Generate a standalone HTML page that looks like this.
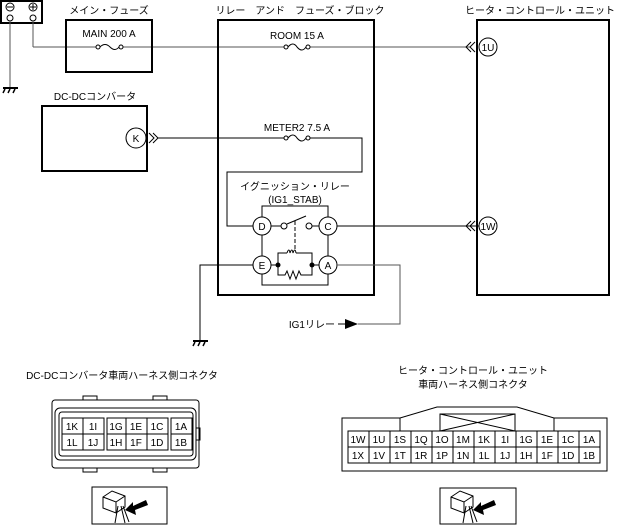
<!DOCTYPE html>
<html><head><meta charset="utf-8"><style>
html,body{margin:0;padding:0;background:#fff}
svg{display:block}
text{font-family:"Liberation Sans","Noto Sans CJK JP",sans-serif;font-size:10px;fill:#000}
</style></head><body>
<svg width="619" height="526" viewBox="0 0 619 526" xmlns="http://www.w3.org/2000/svg">
<g fill="none" stroke="#000" stroke-width="1">
<rect x="1" y="1" width="41" height="22" stroke-width="2"/>
<circle cx="10" cy="7" r="4"/><line x1="7" y1="7" x2="13" y2="7"/>
<circle cx="33" cy="7" r="4"/><line x1="30" y1="7" x2="36" y2="7"/><line x1="33" y1="4" x2="33" y2="10"/>
<circle cx="10" cy="18" r="3"/><circle cx="33" cy="18" r="3"/>
<line x1="10" y1="21" x2="10" y2="88" stroke="#555"/>
<line x1="3" y1="88" x2="18" y2="88" stroke-width="2"/>
<line x1="5" y1="89" x2="3" y2="93" stroke-width="1.5"/><line x1="10" y1="89" x2="8" y2="93" stroke-width="1.5"/><line x1="15" y1="89" x2="13" y2="93" stroke-width="1.5"/>
<line x1="33" y1="21" x2="33" y2="47" stroke="#555"/>
<polyline points="33,47 96,47" stroke="#555"/>
<line x1="123" y1="47" x2="284" y2="47" stroke="#555"/>
<line x1="310" y1="47" x2="470" y2="47" stroke="#555"/>
<rect x="66" y="20" width="86" height="52" stroke-width="2"/>
<circle cx="98" cy="47" r="2"/><circle cx="121" cy="47" r="2"/>
<path d="M100,47 q5,-5 10,0 q5,5 9,0"/>
<rect x="218" y="20" width="156" height="275" stroke-width="2"/>
<circle cx="286" cy="47" r="2"/><circle cx="308" cy="47" r="2"/>
<path d="M288,47 q5,-6 9,0 q5,6 9,0"/>
<rect x="477" y="20" width="132" height="275" stroke-width="2"/>
<circle cx="488" cy="47" r="9" fill="#fff"/>
<path d="M471,42 l-5,5 l5,5 M475,42 l-5,5 l5,5"/>
<circle cx="488" cy="226" r="9" fill="#fff"/>
<path d="M471,221 l-5,5 l5,5 M475,221 l-5,5 l5,5"/>
<rect x="42" y="106" width="105" height="65" stroke-width="2"/>
<circle cx="136" cy="138" r="10" fill="#fff"/>
<path d="M149,133 l5,5 l-5,5 M153,133 l5,5 l-5,5"/>
<line x1="158" y1="138" x2="284" y2="138"/>
<circle cx="286" cy="138" r="2"/><circle cx="308" cy="138" r="2"/>
<path d="M288,138 q5,-6 9,0 q5,6 9,0"/>
<polyline points="310,138 362,138 362,172 227,172 227,226 253,226"/>
<circle cx="262" cy="226" r="9"/><circle cx="328" cy="226" r="9"/>
<circle cx="262" cy="265" r="9"/><circle cx="328" cy="265" r="9"/>
<polyline points="262,217 262,206 328,206 328,217"/>
<line x1="262" y1="235" x2="262" y2="256"/><line x1="328" y1="235" x2="328" y2="256"/>
<polyline points="262,274 262,285 328,285 328,274"/>
<line x1="271" y1="226" x2="281" y2="226"/><circle cx="284" cy="226" r="3"/>
<line x1="287" y1="224" x2="306" y2="216"/>
<circle cx="309" cy="226" r="3"/><line x1="312" y1="226" x2="319" y2="226"/>
<line x1="295" y1="221" x2="295" y2="250" stroke-dasharray="4,2"/>
<line x1="271" y1="265" x2="278" y2="265"/><line x1="319" y1="265" x2="312" y2="265"/>
<polyline points="278,265 278,253 287,253"/>
<path d="M287,253 q2,-6 3,0 q2,-6 3,0 q2,-6 3,0"/>
<polyline points="296,253 312,253 312,265"/>
<polyline points="278,265 278,275 285,275 287,271 290,279 293,271 296,279 299,271 301,275 312,275 312,265"/>
<line x1="337" y1="226" x2="479" y2="226"/>
<polyline points="253,265 200,265 200,340"/>
<line x1="193" y1="341" x2="208" y2="341" stroke-width="2"/>
<line x1="195" y1="342" x2="193" y2="346" stroke-width="1.5"/><line x1="200" y1="342" x2="198" y2="346" stroke-width="1.5"/><line x1="205" y1="342" x2="203" y2="346" stroke-width="1.5"/>
<polyline points="337,265 400,265 400,324 358,324" stroke="#555"/>
<line x1="338" y1="324" x2="346" y2="324"/>
</g>
<circle cx="278" cy="265" r="2.5"/><circle cx="312" cy="265" r="2.5"/>
<polygon points="345,319 358,324 345,329"/>
<text x="109" y="14" text-anchor="middle">メイン・フューズ</text>
<text x="300" y="14" text-anchor="middle">リレー　アンド　フューズ・ブロック</text>
<text x="540" y="14" text-anchor="middle">ヒータ・コントロール・ユニット</text>
<text x="109" y="37" text-anchor="middle">MAIN 200 A</text>
<text x="297" y="39" text-anchor="middle">ROOM 15 A</text>
<text x="297" y="131" text-anchor="middle">METER2 7.5 A</text>
<text x="95" y="100" text-anchor="middle">DC-DCコンバータ</text>
<text x="136" y="142" text-anchor="middle">K</text>
<text x="488" y="51" text-anchor="middle" font-size="9">1U</text>
<text x="488" y="230" text-anchor="middle" font-size="9">1W</text>
<text x="295" y="190" text-anchor="middle">イグニッション・リレー</text>
<text x="295" y="203" text-anchor="middle">(IG1_STAB)</text>
<text x="262" y="230" text-anchor="middle">D</text><text x="328" y="230" text-anchor="middle">C</text>
<text x="262" y="269" text-anchor="middle">E</text><text x="328" y="269" text-anchor="middle">A</text>
<text x="335" y="328" text-anchor="end">IG1リレー</text>
<text x="122" y="379" text-anchor="middle">DC-DCコンバータ車両ハーネス側コネクタ</text>
<text x="473" y="374" text-anchor="middle">ヒータ・コントロール・ユニット</text>
<text x="473" y="388" text-anchor="middle">車両ハーネス側コネクタ</text>
<g fill="none" stroke="#000">
<rect x="52" y="400" width="147" height="68" rx="3"/>
<rect x="55" y="408" width="141" height="52" rx="5"/>
<rect x="59" y="412" width="134" height="44" rx="3"/>
<rect x="83" y="396" width="14" height="4"/><rect x="153" y="396" width="14" height="4"/>
<rect x="83" y="468" width="14" height="4"/><rect x="153" y="468" width="14" height="4"/>
<rect x="196" y="428" width="4" height="12"/>
<rect x="62" y="418" width="42" height="32"/><line x1="83" y1="418" x2="83" y2="450"/><line x1="62" y1="434" x2="104" y2="434"/>
<rect x="107" y="418" width="61" height="32"/><line x1="126" y1="418" x2="126" y2="450"/><line x1="147" y1="418" x2="147" y2="450"/><line x1="107" y1="434" x2="168" y2="434"/>
<rect x="171" y="418" width="21" height="32"/><line x1="171" y1="434" x2="192" y2="434"/>
<rect x="92" y="487" width="75" height="37"/>
<rect x="440" y="488" width="76" height="36"/>
<path d="M342,418 V471 H607 V418 H554 L517,407 H437 L400,418 Z"/>
<rect x="440" y="414" width="75" height="17"/><line x1="440" y1="414" x2="515" y2="431"/><line x1="515" y1="414" x2="440" y2="431"/>
<line x1="400" y1="418" x2="400" y2="431"/><line x1="554" y1="418" x2="554" y2="431"/>
<rect x="348" y="431" width="252" height="32"/><line x1="348" y1="447" x2="600" y2="447"/>
<line x1="369" y1="431" x2="369" y2="463"/><line x1="390" y1="431" x2="390" y2="463"/><line x1="411" y1="431" x2="411" y2="463"/><line x1="432" y1="431" x2="432" y2="463"/><line x1="453" y1="431" x2="453" y2="463"/><line x1="474" y1="431" x2="474" y2="463"/><line x1="495" y1="431" x2="495" y2="463"/><line x1="516" y1="431" x2="516" y2="463"/><line x1="537" y1="431" x2="537" y2="463"/><line x1="558" y1="431" x2="558" y2="463"/><line x1="579" y1="431" x2="579" y2="463"/>
<path d="M103,497 l9,-6 l13,5 v11 l-9,6 l-13,-5 z M103,497 l13,5 l9,-6 M116,502 v11"/>
<path d="M118,506 l-3,17 M121,506 l4,17 M123,506 l6,16"/>
<path d="M451,497 l9,-6 l13,5 v11 l-9,6 l-13,-5 z M451,497 l13,5 l9,-6 M464,502 v11"/>
<path d="M466,506 l-3,17 M469,506 l4,17 M471,506 l6,16"/>
</g>
<polygon points="125,510 133,502 133,506 146,500 148,505 135,510 136,515"/>
<polygon points="473,510 481,502 481,506 494,500 496,505 483,510 484,515"/>
<g text-anchor="middle" font-size="10">
<text x="72" y="430">1K</text><text x="93" y="430">1I</text><text x="116" y="430">1G</text><text x="136" y="430">1E</text><text x="157" y="430">1C</text><text x="181" y="430">1A</text>
<text x="72" y="446">1L</text><text x="93" y="446">1J</text><text x="116" y="446">1H</text><text x="136" y="446">1F</text><text x="157" y="446">1D</text><text x="181" y="446">1B</text>
</g>
<g text-anchor="middle" font-size="10">
<text x="358" y="443">1W</text><text x="379" y="443">1U</text><text x="400" y="443">1S</text><text x="421" y="443">1Q</text><text x="442" y="443">1O</text><text x="463" y="443">1M</text><text x="484" y="443">1K</text><text x="505" y="443">1I</text><text x="526" y="443">1G</text><text x="547" y="443">1E</text><text x="568" y="443">1C</text><text x="589" y="443">1A</text>
<text x="358" y="459">1X</text><text x="379" y="459">1V</text><text x="400" y="459">1T</text><text x="421" y="459">1R</text><text x="442" y="459">1P</text><text x="463" y="459">1N</text><text x="484" y="459">1L</text><text x="505" y="459">1J</text><text x="526" y="459">1H</text><text x="547" y="459">1F</text><text x="568" y="459">1D</text><text x="589" y="459">1B</text>
</g>
</svg>
</body></html>
